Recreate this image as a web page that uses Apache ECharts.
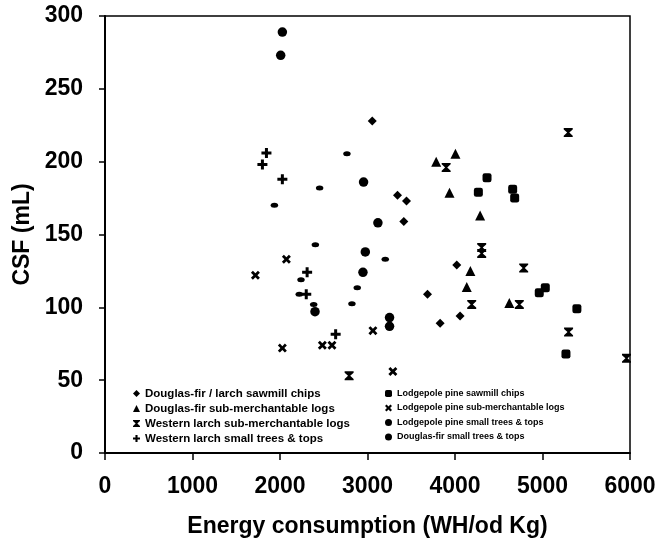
<!DOCTYPE html>
<html>
<head>
<meta charset="utf-8">
<script src="https://cdn.jsdelivr.net/npm/echarts@6/dist/echarts.min.js"></script>
<style>html,body{margin:0;padding:0;background:#fff}#c{width:660px;height:543px}</style>
</head>
<body>
<div id="c"></div>
<script>
var xTicks = [0, 1000, 2000, 3000, 4000, 5000, 6000];
var yTicks = [0, 50, 100, 150, 200, 250, 300];

var names = [
  'Douglas-fir / larch sawmill chips',
  'Douglas-fir sub-merchantable logs',
  'Western larch sub-merchantable logs',
  'Western larch small trees & tops',
  'Lodgepole pine sawmill chips',
  'Lodgepole pine sub-merchantable logs',
  'Lodgepole pine small trees & tops',
  'Douglas-fir small trees & tops'
];

var dfSawmillChips = [[3054,228],[3343,177],[3446,173],[3415,159],[4020,129],[3686,109],[4058,94],[3830,89]];
var dfSubMerch = [[3785,200],[4005,205.5],[3937,178.6],[4287,163],[4176,125],[4134,114],[4621,103]];
var wlSubMerch = [[3899,196],[5294,220],[4305,141],[4305,137],[4785,127],[4191,102],[4735,102],[5298,83],[5960,65],[2790,53]];
var wlSmallTrees = [[1845,206],[1799,198],[2027,188],[2310,124],[2300,109],[2636,81.5]];
var lpSawmillChips = [[4366,189],[4267,179],[4659,181],[4682,175],[5032,113.5],[4963,110],[5393,99],[5268,68]];
var lpSubMerch = [[1719,122],[2073,133],[2027,72],[2484,74],[2594,74],[3062,84],[3290,56]];
var lpSmallTrees = [[2027,289],[2008,273],[2955,186],[3119,158],[2975,138],[2948,124],[2400,97],[3252,93],[3252,87]];
var dfSmallTrees = [[2765,205.5],[2453,182],[1936,170],[2404,143],[2883,113.5],[2822,102.5],[3203,133],[2240,119],[2220,109],[2385,102]];

var SYM = {
  diamond: 'diamond',
  triangle: 'triangle',
  hourglass: 'path://M0,0 L10,0 L10,1.5 L6.2,5 L10,8.5 L10,10 L0,10 L0,8.5 L3.8,5 L0,1.5 Z',
  plus: 'path://M3.5,0 L6.5,0 L6.5,3.5 L10,3.5 L10,6.5 L6.5,6.5 L6.5,10 L3.5,10 L3.5,6.5 L0,6.5 L0,3.5 L3.5,3.5 Z',
  square: 'roundRect',
  cross: 'path://M0,2.2 L2.2,0 L5,2.8 L7.8,0 L10,2.2 L7.2,5 L10,7.8 L7.8,10 L5,7.2 L2.2,10 L0,7.8 L2.8,5 Z',
  circle: 'circle',
  dash: 'circle'
};

function mk(name, data, symbol, size) {
  return {
    name: name, type: 'scatter', data: data, symbol: symbol, symbolSize: size,
    itemStyle: { color: '#000', opacity: 1 }, emphasis: { disabled: true }, z: 3
  };
}

var series = [
  mk(names[0], dfSawmillChips, SYM.diamond, 9),
  mk(names[1], dfSubMerch, SYM.triangle, 10),
  mk(names[2], wlSubMerch, SYM.hourglass, 9),
  mk(names[3], wlSmallTrees, SYM.plus, 10),
  mk(names[4], lpSawmillChips, SYM.square, 9),
  mk(names[5], lpSubMerch, SYM.cross, 9),
  mk(names[6], lpSmallTrees, SYM.circle, 9.5),
  mk(names[7], dfSmallTrees, SYM.dash, [7.5, 5])
];

var FONT = 'Liberation Sans, Arial, sans-serif';

var chart = echarts.init(document.getElementById('c'), null, { renderer: 'canvas' });
chart.setOption({
  backgroundColor: '#fff',
  animation: false,
  grid: { left: 105, right: 30, top: 16, bottom: 89, show: true, borderColor: '#000', borderWidth: 1.5, backgroundColor: 'transparent' },
  legend: [
    { data: names.slice(0, 4), orient: 'vertical', left: 133, top: 387.5, itemWidth: 7, itemHeight: 7, itemGap: 3,
      textStyle: { fontFamily: FONT, fontSize: 11.5, fontWeight: 'bold', color: '#000' }, selectedMode: false, padding: 0 },
    { data: names.slice(4), orient: 'vertical', left: 385, top: 389, itemWidth: 7, itemHeight: 7, itemGap: 5.5,
      textStyle: { fontFamily: FONT, fontSize: 9, fontWeight: 'bold', color: '#000' }, selectedMode: false, padding: 0 }
  ],
  xAxis: {
    type: 'value', min: xTicks[0], max: xTicks[xTicks.length - 1], interval: 1000,
    name: 'Energy consumption (WH/od Kg)', nameLocation: 'middle', nameGap: 62,
    nameTextStyle: { fontFamily: FONT, fontSize: 23, fontWeight: 'bold', color: '#000' },
    axisLine: { show: true, lineStyle: { color: '#000', width: 2 } },
    axisTick: { show: true, length: 7, lineStyle: { color: '#000', width: 1.5 } },
    axisLabel: { margin: 22, fontFamily: FONT, fontSize: 23, fontWeight: 'bold', color: '#000',
      formatter: function (v) { return xTicks.indexOf(v) >= 0 ? String(v) : ''; } },
    splitLine: { show: false }
  },
  yAxis: {
    type: 'value', min: yTicks[0], max: yTicks[yTicks.length - 1], interval: 50,
    name: 'CSF (mL)', nameLocation: 'middle', nameGap: 71,
    nameTextStyle: { fontFamily: FONT, fontSize: 23, fontWeight: 'bold', color: '#000' },
    axisLine: { show: true, lineStyle: { color: '#000', width: 2 } },
    axisTick: { show: true, length: 6, lineStyle: { color: '#000', width: 1.5 } },
    axisLabel: { margin: 22, fontFamily: FONT, fontSize: 23, fontWeight: 'bold', color: '#000',
      formatter: function (v) { return yTicks.indexOf(v) >= 0 ? String(v) : ''; } },
    splitLine: { show: false }
  },
  series: series
});
</script>
</body>
</html>
